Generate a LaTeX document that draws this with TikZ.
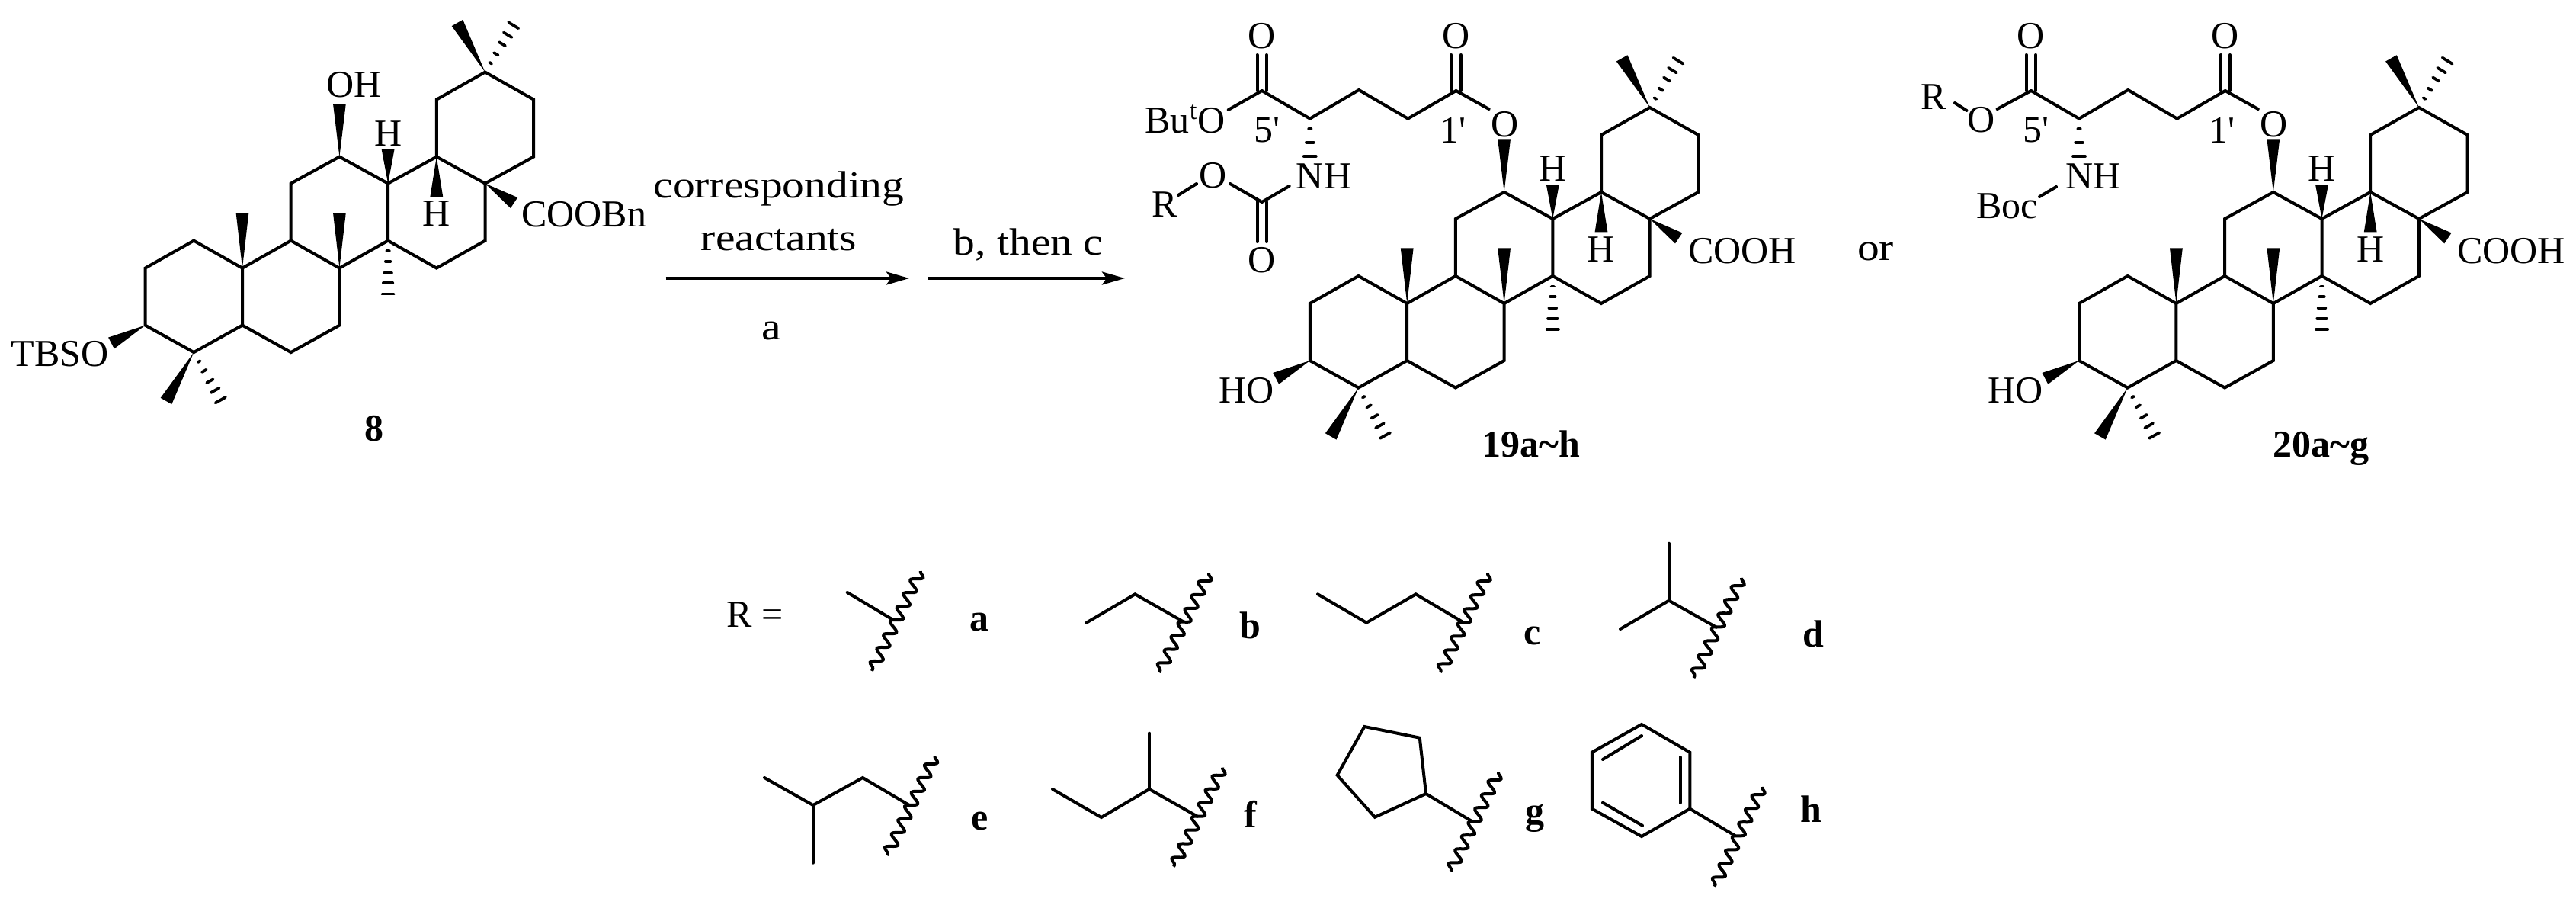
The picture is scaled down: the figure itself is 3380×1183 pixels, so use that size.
\documentclass[tikz,border=0pt]{standalone}
\usepackage{fontspec}
\setmainfont{Liberation Serif}
\newfontfamily\mfont{Liberation Serif}
\newfontfamily\lfont[FakeStretch=1.15]{Liberation Serif}
\usetikzlibrary{calc,arrows.meta,decorations.pathmorphing}
\tikzset{
  bond/.style={line width=2pt,line cap=round,line join=miter},
  wavy/.style={line width=2pt,decorate,decoration={snake,segment length=10pt,amplitude=3.5pt}},
  atom/.style={inner sep=0pt,font=\mfont\fontsize{25}{30}\selectfont},
  tag/.style={inner sep=0pt,anchor=base,font=\mfont\bfseries\fontsize{25}{30}\selectfont},
  word/.style={inner sep=0pt,anchor=base,font=\lfont\fontsize{25}{30}\selectfont},
  rxn/.style={line width=2pt,-{Stealth[length=15pt,width=8.5pt,inset=3pt]}},
  dash/.style={line width=1.9pt,line cap=round}
}
% wedge: tip, wide end, half width
\newcommand{\wdg}[3][4.2pt]{\fill ($(#3)!#1!90:(#2)$) -- ($(#3)!#1!-90:(#2)$) -- (#2) -- cycle;}
\newcommand{\hsh}[2]{%
  \foreach \t/\w in {0.19/0.8pt,0.38/1.6pt,0.59/2.4pt,0.78/3.1pt,0.98/3.8pt}{
    \coordinate (hp) at ($(#1)!\t!(#2)$);
    \draw[line width=1.9pt,line cap=round] ($(hp)!\w!90:(#1)$) -- ($(hp)!\w!-90:(#1)$);
  }}
\newcommand{\hshshort}[2]{%
  \foreach \t/\w in {0.27/0.8pt,0.63/2.4pt,1.0/4pt}{
    \coordinate (hp) at ($(#1)!\t!(#2)$);
    \draw[line width=1.9pt,line cap=round] ($(hp)!\w!90:(#1)$) -- ($(hp)!\w!-90:(#1)$);
  }}
\newcommand{\dbl}[2]{%
  \draw[bond] ([xshift=-3.1pt]#1) -- ([xshift=-3.1pt]#2);
  \draw[bond] ([xshift=3.1pt]#1) -- ([xshift=3.1pt]#2);}
% triterpene skeleton; #1 prefix, #2 x, #3 y
\newcommand{\terp}[3]{%
\begin{scope}[shift={(#2,#3)}]
  \foreach \c/\x in {0/0,1/63.7,2/127.4,3/191.1,4/254.8,5/318.5,6/382.2,7/445.9,8/509.6}{
    \foreach \l/\y in {0/35.5,1/0,2/-75,3/-111,4/-186,5/-221,6/-296,7/-332}{
      \coordinate (#1c\c l\l) at (\x,\y);
    }}
  \draw[bond] (#1c0l2)--(#1c1l3)--(#1c2l2)--(#1c2l1)--(#1c1l0)--(#1c0l1)--cycle;
  \draw[bond] (#1c2l2)--(#1c3l3)--(#1c4l2)--(#1c4l1)--(#1c3l0)--(#1c2l1);
  \draw[bond] (#1c3l3)--(#1c3l4)--(#1c4l5)--(#1c5l4)--(#1c5l3)--(#1c4l2);
  \draw[bond] (#1c5l4)--(#1c6l5)--(#1c7l4)--(#1c7l3)--(#1c6l2)--(#1c5l3);
  \draw[bond] (#1c6l5)--(#1c6l6)--(#1c7l7)--(#1c8l6)--(#1c8l5)--(#1c7l4);
  \coordinate (#1me1) at (127.4,-147.6);
  \coordinate (#1me2) at (254.8,-147.6);
  \coordinate (#1me3) at (318.5,-39.6);
  \coordinate (#1hup) at (318.5,-230.6);
  \coordinate (#1hdn) at (382.2,-168.6);
  \coordinate (#1coo) at (483.9,-160.6);
  \coordinate (#1oxy) at (254.8,-290.6);
  \coordinate (#1gw) at (409.4,-396.6);
  \coordinate (#1gh) at (483.9,-394.6);
  \coordinate (#1oa) at (-44.6,23.4);
  \coordinate (#1aw) at (27.4,99.4);
  \coordinate (#1ah) at (99.4,99.4);
  \wdg{#1c2l2}{#1me1}
  \wdg{#1c4l2}{#1me2}
  \hsh{#1c5l3}{#1me3}
  \wdg{#1c5l4}{#1hup}
  \wdg{#1c6l5}{#1hdn}
  \wdg{#1c7l4}{#1coo}
  \wdg{#1c4l5}{#1oxy}
  \wdg{#1c7l7}{#1gw}
  \hsh{#1c7l7}{#1gh}
  \wdg{#1c0l1}{#1oa}
  \wdg{#1c1l0}{#1aw}
  \hsh{#1c1l0}{#1ah}
  \node[atom] (#1Hu) at (318.5,-251.6) {H};
  \node[atom] (#1Hd) at (382.2,-146) {H};
\end{scope}}
% side chain of 19/20, shifted by #2
\newcommand{\chain}[2]{%
\begin{scope}[shift={(#2,0)}]
  \coordinate (#1c1) at (1910.5,119);
  \coordinate (#1c2) at (1847.4,155.6);
  \coordinate (#1c3) at (1783,118);
  \coordinate (#1c4) at (1718.8,155.6);
  \coordinate (#1c5) at (1655.8,119);
  \coordinate (#1e1) at (1953.6,143);
  \coordinate (#1u1) at (1910.5,72);
  \coordinate (#1u5) at (1655.8,72);
  \coordinate (#1hn) at (1718.8,205);
  \draw[bond] (#1e1)--(#1c1)--(#1c2)--(#1c3)--(#1c4)--(#1c5);
  \dbl{#1c1}{#1u1}
  \dbl{#1c5}{#1u5}
  \hshshort{#1c4}{#1hn}
  \node[atom] (#1O1) at (1974.8,162.7) {O};
  \node[atom] (#1Ou1) at (1910.5,47.6) {O};
  \node[atom] (#1Ou5) at (1655.8,47.6) {O};
  \node[atom,anchor=base] (#1p5) at (1662.5,186) {5'};
  \node[atom,anchor=base] (#1p1) at (1906,187) {1'};
\end{scope}}
\begin{document}
\begin{tikzpicture}[x=0.5pt,y=-0.5pt]
\useasboundingbox (0,0) rectangle (3380,1183);
% compound 8
\terp{a}{190.6}{426.6}
\node[atom,anchor=west] (aR) at (684,281) {COOBn};
\node[atom] (aOH) at (465,111) {OH};
\node[atom,anchor=east] (aTBSO) at (143,464) {TBSO};
\node[tag] (n8) at (491,578) {8};
% arrows
\coordinate (ar1s) at (873.7,365); \coordinate (ar1e) at (1193,365);
\coordinate (ar2s) at (1217,365); \coordinate (ar2e) at (1476,365);
\draw[rxn] (ar1s) -- (ar1e);
\draw[rxn] (ar2s) -- (ar2e);
\node[word] (w1) at (1022,259) {corresponding};
\node[word] (w2) at (1022,328) {reactants};
\node[word] (w3) at (1012,445) {a};
\node[word] (w4) at (1349,334) {b, then c};
% compound 19
\terp{b}{1718.8}{473}
\chain{b}{0}
\node[atom,anchor=west] at (2215,329) (bR) {COOH};
\node[atom,anchor=east] at (1672,512) (bHO) {HO};
\node[atom,anchor=base east] (bBu) at (1608,174.3) {Bu\textsuperscript{t}O};
\node[atom] (bNH) at (1737,230.7) {NH};
\node[atom] (bO2) at (1591.7,230.4) {O};
\node[atom,anchor=base] (bRr) at (1528,284.3) {R};
\node[atom] (bO3) at (1655.8,341) {O};
\coordinate (bc) at (1655.8,265);
\coordinate (bd) at (1655.8,317);
\coordinate (bn) at (1691.7,244);
\coordinate (bo) at (1614,241);
\coordinate (bq) at (1611.7,144);
\coordinate (bx) at (1570,241);
\coordinate (by) at (1546,256);
\draw[bond] (bq)--(bc5);
\draw[bond] (bn)--(bc)--(bo);
\dbl{bc}{bd}
\draw[bond] (bx)--(by);
\node[tag] (n19) at (2009,599) {19a\char126 h};
% or
\node[word] (orw) at (2461,341) {or};
% compound 20
\terp{c}{2728}{473}
\chain{c}{1009.2}
\node[atom,anchor=west] at (3224,329) (cR) {COOH};
\node[atom,anchor=east] at (2681,512) (cHO) {HO};
\node[atom] (cO0) at (2599.4,157) {O};
\node[atom] (cRr) at (2537.4,127) {R};
\node[atom] (cNH) at (2746.2,230.7) {NH};
\node[atom] (cBoc) at (2633.5,270) {Boc};
\coordinate (cq) at (2620.6,143);
\coordinate (cr1) at (2565,135);
\coordinate (cr2) at (2580.5,145);
\coordinate (cb1) at (2698,245);
\coordinate (cb2) at (2676,258);
\draw[bond] (cq)--(cc5);
\draw[bond] (cr1)--(cr2);
\draw[bond] (cb1)--(cb2);
\node[tag] (n20) at (3045,599) {20a\char126 g};
% R groups
\node[atom,anchor=base west] (Rr) at (953,822) {R};
\node[atom,anchor=base west] (Req) at (999,822) {=};
\draw[bond] (1111.7,777)--(1171.4,812.7);
\draw[wavy] (1207.7,749)--(1143.9,880);
\node[tag] (la) at (1285,827) {a};
\draw[bond] (1425.5,816.7)--(1489.3,779.3)--(1552,815);
\draw[wavy] (1586,752)--(1521,882);
\node[tag] (lb) at (1640,837) {b};
\draw[bond] (1729,779.3)--(1793,816.7)--(1857.7,779.3)--(1917.9,815);
\draw[wavy] (1952,752)--(1890,882);
\node[tag] (lc) at (2011,845) {c};
\draw[bond] (2126,825)--(2189.8,787.7)--(2252,822.7);
\draw[bond] (2189.8,787.7)--(2189.8,712.7);
\draw[wavy] (2285,758)--(2222.4,889);
\node[tag] (ld) at (2379.6,848) {d};
\draw[bond] (1003,1020)--(1066.8,1056)--(1132,1020)--(1193,1056);
\draw[bond] (1066.8,1056)--(1066.8,1131.7);
\draw[wavy] (1226.5,991.7)--(1163.8,1122);
\node[tag] (le) at (1286,1088) {e};
\draw[bond] (1381,1035)--(1445,1072)--(1508,1035)--(1571,1070.7);
\draw[bond] (1508,1035)--(1508,961.7);
\draw[wavy] (1604,1006.7)--(1540,1136.7);
\node[tag] (lf) at (1641,1085) {f};
\draw[bond] (1790.3,953)--(1862.8,967.7)--(1871,1041)--(1804,1071.7)--(1754.6,1016.7)--cycle;
\draw[bond] (1871,1041)--(1930.6,1076.7);
\draw[wavy] (1966,1013)--(1903.6,1142.7);
\node[tag] (lg) at (2013.8,1080) {g};
\draw[bond] (2154,950)--(2217.3,986.7)--(2217.3,1060.7)--(2154,1097)--(2088.8,1060.7)--(2088.8,986.7)--cycle;
\draw[bond] (2204.6,993)--(2204.6,1053);
\draw[bond] (2154,965)--(2103,996);
\draw[bond] (2103,1052.7)--(2155,1082.7);
\draw[bond] (2217.3,1060.7)--(2276.5,1096);
\draw[wavy] (2312,1032)--(2249.5,1162.7);
\node[tag] (lh) at (2376,1078) {h};
\end{tikzpicture}
\end{document}
